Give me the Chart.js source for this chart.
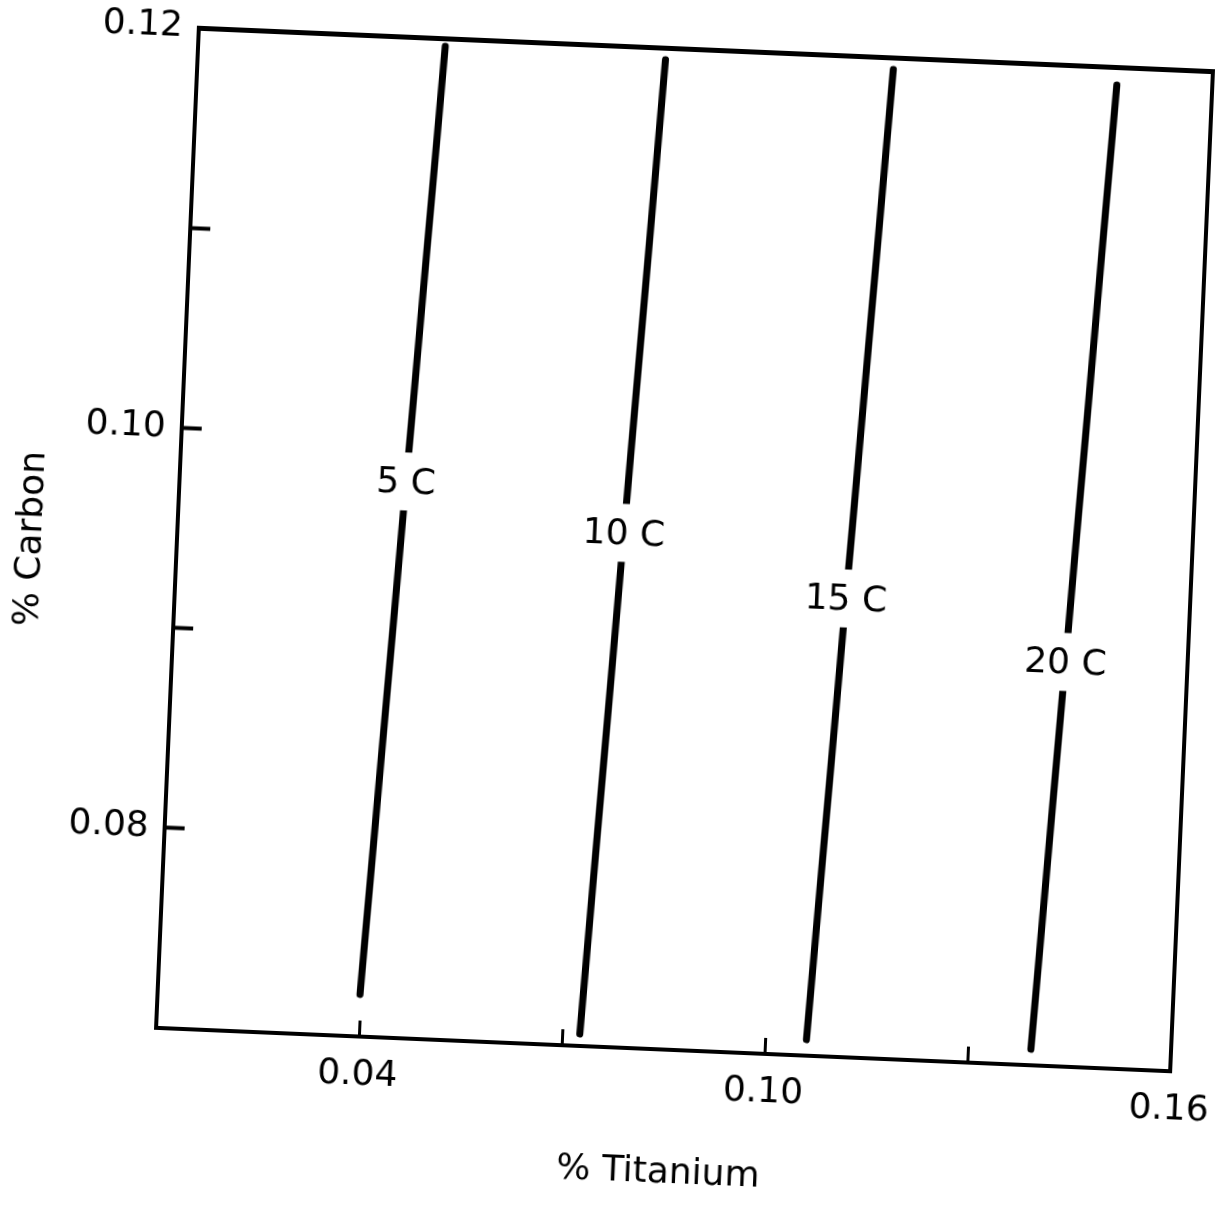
<!DOCTYPE html>
<html>
<head>
<meta charset="utf-8">
<title>% Carbon vs % Titanium</title>
<script src="https://cdn.jsdelivr.net/npm/chart.js@4.4.1/dist/chart.umd.min.js"></script>
<style>
  html, body { margin: 0; padding: 0; background: #fff; overflow: hidden; }
  #wrap {
    width: 1300px; height: 1205px;
    transform: rotate(2.45deg);
    transform-origin: 684.5px 549.5px;
  }
  canvas { display: block; }
</style>
</head>
<body>
<div id="wrap"><canvas id="chart" width="1300" height="1205"></canvas></div>
<script>
// Isotherm lines: each runs from a low-carbon end to a high-carbon end.
const isotherms = ['5 C', '10 C', '15 C', '20 C'];
const tiLow  = [0.0399, 0.0726, 0.1061, 0.1393];
const cLow   = [0.0721, 0.0706, 0.0708, 0.0708];
const tiHigh = [0.0465, 0.0791, 0.1128, 0.1459];
const cHigh  = [0.1196, 0.1194, 0.1194, 0.1191];
// Carbon level where each isotherm carries its label.
const labelC = [0.0978, 0.0957, 0.0929, 0.0902];

// Axis ticks
const xTicks      = [0.04, 0.07, 0.10, 0.13, 0.16];
const xTickLabels = ['0.04', '', '0.10', '', '0.16'];
const yTicks      = [0.08, 0.09, 0.10, 0.11, 0.12];
const yTickLabels = ['0.08', '', '0.10', '', '0.12'];
const xRange = [0.01, 0.16];
const yRange = [0.07, 0.12];

Chart.defaults.font.family = "'DejaVu Sans', sans-serif";
Chart.defaults.font.size = 36;
Chart.defaults.color = '#000';

const datasets = isotherms.map((name, i) => ({
  label: name,
  data: [{ x: tiLow[i], y: cLow[i] }, { x: tiHigh[i], y: cHigh[i] }],
  showLine: true,
  borderColor: '#000',
  borderWidth: 7,
  borderCapStyle: 'round',
  pointRadius: 0,
  tension: 0
}));

// Inline labels: a white break in the line with the temperature written in it.
const isothermLabels = {
  id: 'isothermLabels',
  afterDatasetsDraw(chart) {
    const ctx = chart.ctx;
    const xs = chart.scales.x, ys = chart.scales.y;
    ctx.save();
    ctx.font = "36px 'DejaVu Sans', sans-serif";
    ctx.textAlign = 'center';
    ctx.textBaseline = 'middle';
    isotherms.forEach((name, i) => {
      const t = (labelC[i] - cLow[i]) / (cHigh[i] - cLow[i]);
      const ti = tiLow[i] + t * (tiHigh[i] - tiLow[i]);
      const px = xs.getPixelForValue(ti);
      const py = ys.getPixelForValue(labelC[i]);
      const w = ctx.measureText(name).width + 8;
      ctx.fillStyle = '#fff';
      ctx.fillRect(px - w / 2, py - 29, w, 58);
      ctx.fillStyle = '#000';
      ctx.fillText(name, px, py + 2);
    });
    ctx.restore();
  }
};

const setTicks = (values) => (scale) => { scale.ticks = values.map(v => ({ value: v })); };
// Fixed axis band size; labels are allowed to overhang the plot edges.
const fixSize = (w, h) => (s) => {
  if (w !== null) s.width = w;
  if (h !== null) s.height = h;
  s.paddingLeft = s.paddingRight = s.paddingTop = s.paddingBottom = 0;
};

new Chart(document.getElementById('chart'), {
  type: 'scatter',
  data: { datasets },
  plugins: [isothermLabels],
  options: {
    responsive: false,
    animation: false,
    devicePixelRatio: 1,
    layout: { padding: { left: 0, top: 49, right: 108, bottom: 0 } },
    plugins: { legend: { display: false }, tooltip: { enabled: false } },
    scales: {
      x: {
        type: 'linear', position: 'bottom',
        min: xRange[0], max: xRange[1],
        afterBuildTicks: setTicks(xTicks),
        afterFit: fixSize(null, 155),
        ticks: {
          padding: 33,
          maxRotation: 0,
          autoSkip: false,
          callback: (v, i) => xTickLabels[i]
        },
        grid: { drawOnChartArea: false, drawTicks: true, tickLength: -16, tickWidth: 3, tickColor: '#000' },
        border: { display: true, color: '#000', width: 4 },
        title: { display: true, text: '% Titanium', padding: { top: 0, bottom: 10 }, font: { size: 36 } }
      },
      y: {
        type: 'linear', position: 'left',
        min: yRange[0], max: yRange[1],
        afterBuildTicks: setTicks(yTicks),
        afterFit: fixSize(177, null),
        ticks: {
          padding: 36,
          autoSkip: false,
          callback: (v, i) => yTickLabels[i]
        },
        grid: { drawOnChartArea: false, drawTicks: true, tickLength: -20, tickWidth: 4, tickColor: '#000' },
        border: { display: true, color: '#000', width: 4 },
        title: { display: true, text: '% Carbon   ', padding: { top: 10, bottom: 0 }, font: { size: 36 } }
      },
      x2: {
        type: 'linear', position: 'top',
        min: xRange[0], max: xRange[1],
        afterFit: fixSize(null, 0),
        ticks: { display: false },
        grid: { display: false },
        border: { display: true, color: '#000', width: 5 }
      },
      y2: {
        type: 'linear', position: 'right',
        min: yRange[0], max: yRange[1],
        afterFit: fixSize(0, null),
        ticks: { display: false },
        grid: { display: false },
        border: { display: true, color: '#000', width: 4 }
      }
    }
  }
});
</script>
</body>
</html>
